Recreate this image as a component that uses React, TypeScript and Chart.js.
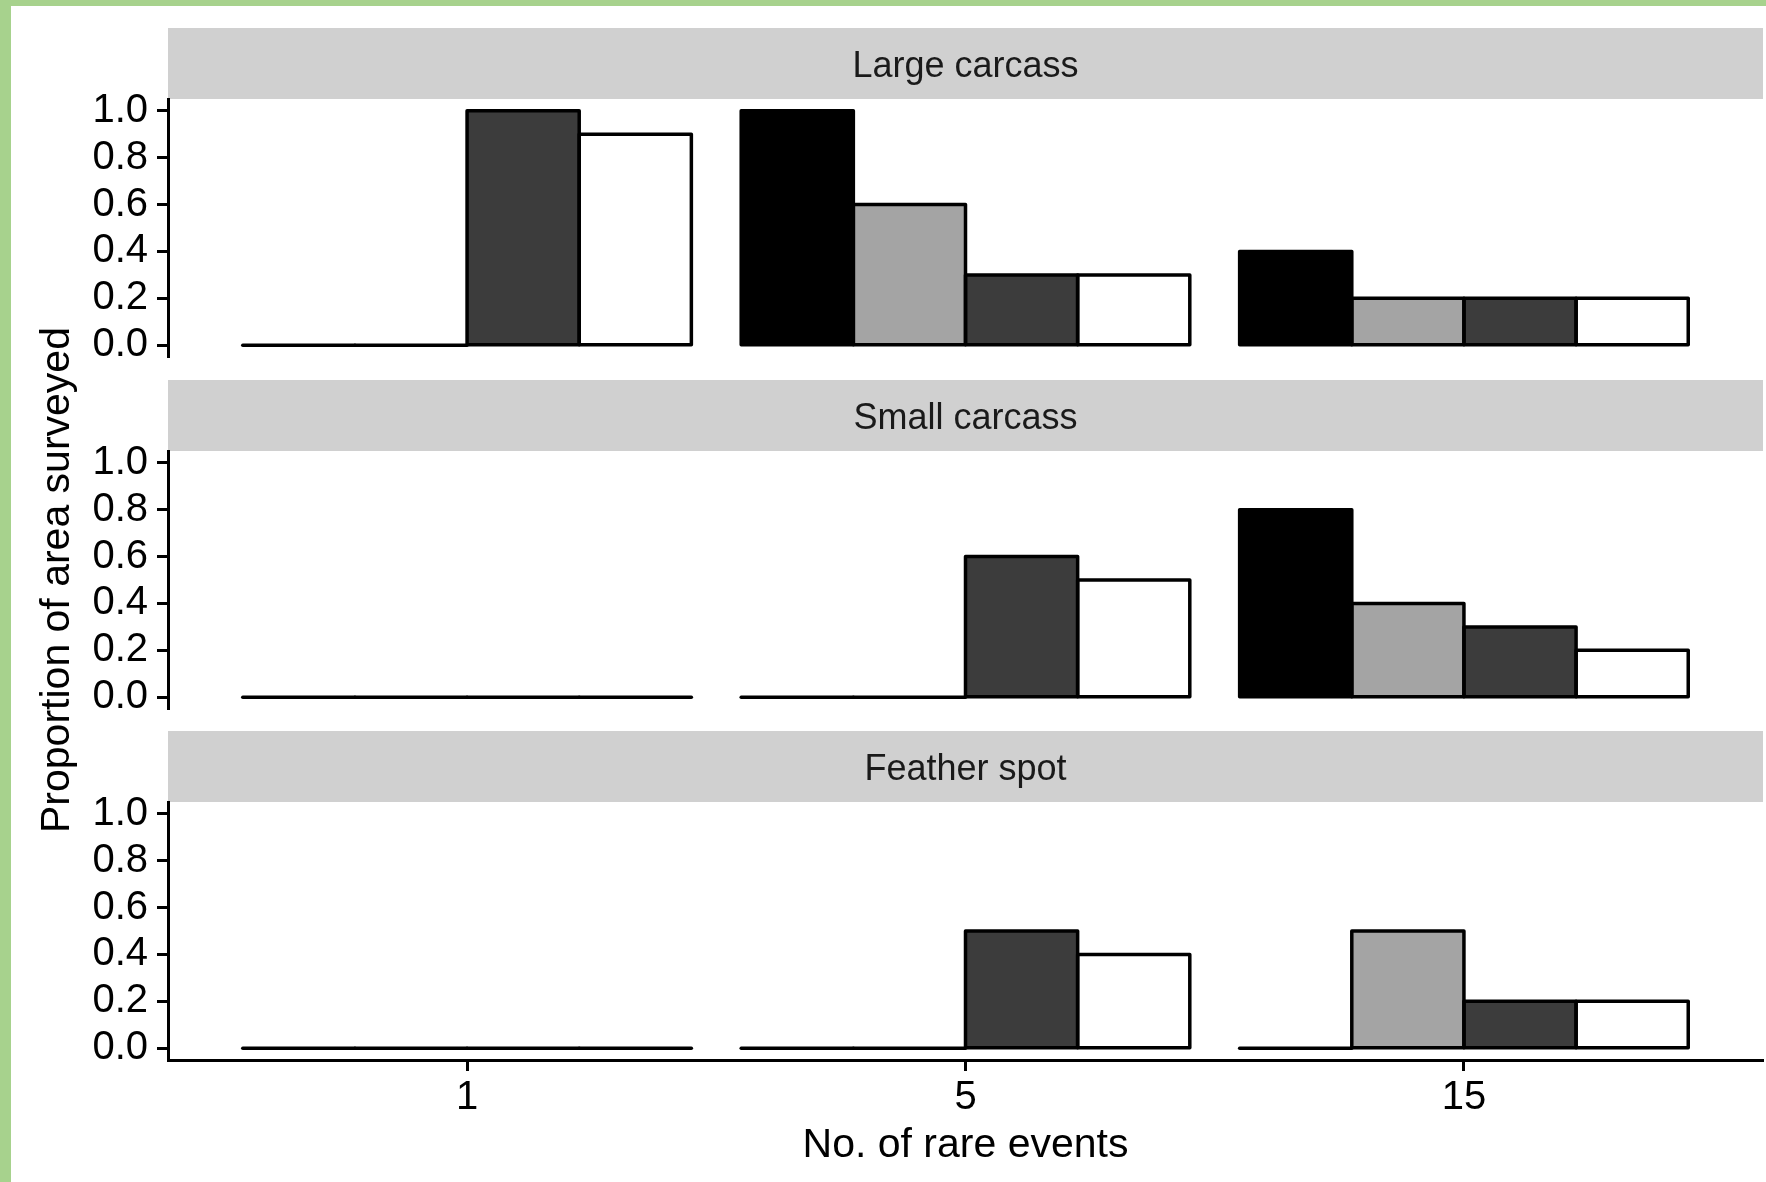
import React, { useEffect, useRef } from "react";
import { Chart, registerables } from "chart.js";

Chart.register(...registerables);

// ---------- data ----------
const xLabels = ["1", "5", "15"];
const panelTitles = ["Large carcass", "Small carcass", "Feather spot"];
const seriesNames = ["Group A", "Group B", "Group C", "Group D"];
const seriesColors = ["#000000", "#A4A4A4", "#3C3C3C", "#FFFFFF"];
const yTicks = [0, 0.2, 0.4, 0.6, 0.8, 1.0];

// values per series, one value per x label (1, 5, 15)
const largeA = [0, 1.0, 0.4];
const largeB = [0, 0.6, 0.2];
const largeC = [1.0, 0.3, 0.2];
const largeD = [0.9, 0.3, 0.2];

const smallA = [0, 0, 0.8];
const smallB = [0, 0, 0.4];
const smallC = [0, 0.6, 0.3];
const smallD = [0, 0.5, 0.2];

const featherA = [0, 0, 0];
const featherB = [0, 0, 0.5];
const featherC = [0, 0.5, 0.2];
const featherD = [0, 0.4, 0.2];

const panelSeries = [
  [largeA, largeB, largeC, largeD],
  [smallA, smallB, smallC, smallD],
  [featherA, featherB, featherC, featherD],
];

const xTitle = "No. of rare events";
const yTitle = "Proportion of area surveyed";

// ---------- layout constants ----------
const W = 1766;
const STRIP_H = 71;
const PLOT_H = 258;
const Y_AXIS_W = 168;
const BOTTOM_PAD = 40;
const X_AXIS_H = 122;
const panelTops = [28, 380, 731];
const FONT = "'Liberation Sans', Arial, Helvetica, sans-serif";

const stripPlugin = {
  id: "stripPlugin",
  beforeDraw(chart: any, _args: any, opts: any) {
    const { ctx, chartArea } = chart;
    ctx.save();
    ctx.fillStyle = "#D0D0D0";
    ctx.fillRect(chartArea.left, chartArea.top - STRIP_H, chartArea.right - chartArea.left, STRIP_H);
    ctx.fillStyle = "#1A1A1A";
    ctx.font = `36px ${FONT}`;
    ctx.textAlign = "center";
    ctx.textBaseline = "middle";
    ctx.fillText(opts.text, (chartArea.left + chartArea.right) / 2, chartArea.top - STRIP_H / 2 + 4);
    ctx.restore();
  },
};

const outlinePlugin = {
  id: "outlinePlugin",
  afterDatasetsDraw(chart: any) {
    const { ctx } = chart;
    ctx.save();
    ctx.strokeStyle = "#000000";
    ctx.lineWidth = 3.5;
    ctx.lineJoin = "round";
    ctx.lineCap = "round";
    chart.data.datasets.forEach((_d: any, i: number) => {
      const meta = chart.getDatasetMeta(i);
      meta.data.forEach((el: any) => {
        const { x, y, base, width } = el.getProps(["x", "y", "base", "width"], true);
        const top = Math.min(y, base);
        const h = Math.abs(base - y);
        ctx.beginPath();
        if (h < 0.5) {
          ctx.moveTo(x - width / 2, base);
          ctx.lineTo(x + width / 2, base);
        } else {
          ctx.rect(x - width / 2, top, width, h);
        }
        ctx.stroke();
      });
    });
    ctx.restore();
  },
};

function Panel({ index }: { index: number }) {
  const ref = useRef<HTMLCanvasElement>(null);
  const isLast = index === panelSeries.length - 1;
  const height = STRIP_H + PLOT_H + (isLast ? X_AXIS_H : BOTTOM_PAD);

  useEffect(() => {
    if (!ref.current) return;
    const tickFont = { family: FONT, size: 40 };
    const series = panelSeries[index];
    const chart = new Chart(ref.current, {
      type: "bar",
      data: {
        datasets: series.map((vals, i) => ({
          label: seriesNames[i],
          data: vals.map((v, j) => ({ x: j + 1, y: v })),
          backgroundColor: seriesColors[i],
          borderWidth: 0,
          categoryPercentage: 0.9,
          barPercentage: 1.0,
        })),
      },
      options: {
        responsive: false,
        animation: false,
        layout: { padding: { top: STRIP_H, right: 3, bottom: isLast ? 0 : BOTTOM_PAD, left: 0 } },
        plugins: {
          legend: { display: false },
          tooltip: { enabled: false },
          stripPlugin: { text: panelTitles[index] },
        } as any,
        scales: {
          x: {
            type: "linear",
            min: 0.4,
            max: 3.6,
            offset: false,
            display: isLast,
            afterBuildTicks: (s: any) => {
              s.ticks = xLabels.map((_l, i) => ({ value: i + 1 }));
            },
            afterFit: (s: any) => {
              s.height = isLast ? X_AXIS_H : 0;
            },
            ticks: {
              callback: (v: any) => xLabels[Number(v) - 1] ?? "",
              font: tickFont,
              color: "#000000",
              padding: 3,
              maxRotation: 0,
              autoSkip: false,
            },
            grid: {
              drawOnChartArea: false,
              drawTicks: true,
              tickLength: 11,
              tickWidth: 3,
              tickColor: "#000000",
              offset: false,
            },
            border: { display: true, color: "#000000", width: 3 },
            title: {
              display: isLast,
              text: xTitle,
              font: { family: FONT, size: 41 },
              color: "#000000",
              padding: { top: 0, bottom: 12 },
            },
          },
          y: {
            type: "linear",
            min: -0.05,
            max: 1.05,
            afterBuildTicks: (s: any) => {
              s.ticks = yTicks.map((v) => ({ value: v }));
            },
            afterFit: (s: any) => {
              s.width = Y_AXIS_W;
            },
            ticks: {
              callback: (v: any) => Number(v).toFixed(1),
              font: tickFont,
              color: "#000000",
              padding: 9,
            },
            grid: {
              drawOnChartArea: false,
              drawTicks: true,
              tickLength: 11,
              tickWidth: 3,
              tickColor: "#000000",
            },
            border: { display: true, color: "#000000", width: 3 },
          },
        },
      } as any,
      plugins: [stripPlugin, outlinePlugin],
    });
    return () => chart.destroy();
  }, [index]);

  return (
    <canvas
      ref={ref}
      width={W}
      height={height}
      style={{ position: "absolute", left: 0, top: panelTops[index], width: W, height }}
    />
  );
}

export default function App() {
  const titleBoxW = 700;
  const titleBoxH = 48;
  const titleCx = 55;
  const titleCy = 580;
  return (
    <div
      style={{
        position: "absolute",
        left: 0,
        top: 0,
        width: W,
        height: 1182,
        background: "#FFFFFF",
        overflow: "hidden",
      }}
    >
      <div style={{ position: "absolute", left: 0, top: 0, width: W, height: 6, background: "#A7D28D" }} />
      <div style={{ position: "absolute", left: 0, top: 0, width: 11, height: 1182, background: "#A7D28D" }} />
      {panelSeries.map((_s, i) => (
        <Panel key={i} index={i} />
      ))}
      <div
        style={{
          position: "absolute",
          left: titleCx - titleBoxW / 2,
          top: titleCy - titleBoxH / 2,
          width: titleBoxW,
          height: titleBoxH,
          lineHeight: `${titleBoxH}px`,
          textAlign: "center",
          fontFamily: FONT,
          fontSize: 41,
          color: "#000000",
          transform: "rotate(-90deg)",
          transformOrigin: "center center",
          whiteSpace: "nowrap",
        }}
      >
        {yTitle}
      </div>
    </div>
  );
}
